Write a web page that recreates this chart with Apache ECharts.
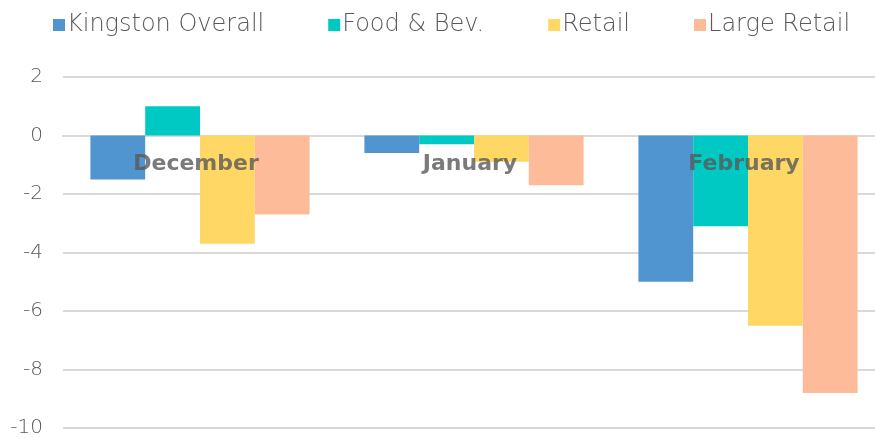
<!DOCTYPE html>
<html>
<head>
<meta charset="utf-8">
<script src="https://cdn.jsdelivr.net/npm/echarts@6/dist/echarts.min.js"></script>
<style>
  html, body { margin: 0; padding: 0; background: #fff; }
  #main { width: 875px; height: 438px; }
</style>
</head>
<body>
<div id="main"></div>
<script>
// data
var months = ["December", "January", "February"];
var kingstonOverall = [-1.5, -0.6, -5.0];
var foodBev = [1.0, -0.3, -3.1];
var retail = [-3.7, -0.9, -6.5];
var largeRetail = [-2.7, -1.7, -8.8];

var myChart = echarts.init(document.getElementById("main"));

function bar(name, data, color) {
  return {
    name: name,
    type: "bar",
    data: data,
    barGap: "0%",
    barCategoryGap: "20%",
    itemStyle: { color: color }
  };
}

var option = {
  animation: false,
  textStyle: { fontFamily: "DejaVu Sans" },
  legend: {
    top: 8,
    left: 48,
    itemWidth: 12,
    itemHeight: 12,
    itemGap: 64,
    icon: "rect",
    textStyle: { fontSize: 24, color: "#595959", fontWeight: 200, padding: [0, 0, 0, -3] },
    data: ["Kingston Overall", "Food & Bev.", "Retail", "Large Retail"]
  },
  grid: { left: 63, right: -10, top: 77, bottom: 10, outerBoundsMode: "none" },
  xAxis: {
    type: "category",
    data: months,
    axisLine: { show: true, onZero: true, lineStyle: { color: "#d9d9d9", width: 2 } },
    axisTick: { show: false },
    axisLabel: { show: false }
  },
  yAxis: {
    type: "value",
    min: -10,
    max: 2,
    interval: 2,
    axisLine: { show: false },
    axisTick: { show: false },
    axisLabel: { fontSize: 20, color: "#595959", fontWeight: 200, margin: 20 },
    splitLine: { lineStyle: { color: "#d9d9d9", width: 2 } }
  },
  series: [
    bar("Kingston Overall", kingstonOverall, "#5094d0"),
    bar("Food & Bev.", foodBev, "#00c8c2"),
    bar("Retail", retail, "#fed764"),
    bar("Large Retail", largeRetail, "#febb99"),
    {
      // category names sitting just under the zero line
      type: "scatter",
      z: 20,
      symbolSize: 0,
      silent: true,
      data: months.map(function (m) { return [m, 0]; }),
      label: {
        show: true,
        position: "bottom",
        distance: 18,
        offset: [-4, 0],
        formatter: function (p) { return p.value[0]; },
        fontSize: 22,
        fontWeight: "bold",
        color: "#595959"
      }
    }
  ]
};

myChart.setOption(option);
</script>
</body>
</html>
